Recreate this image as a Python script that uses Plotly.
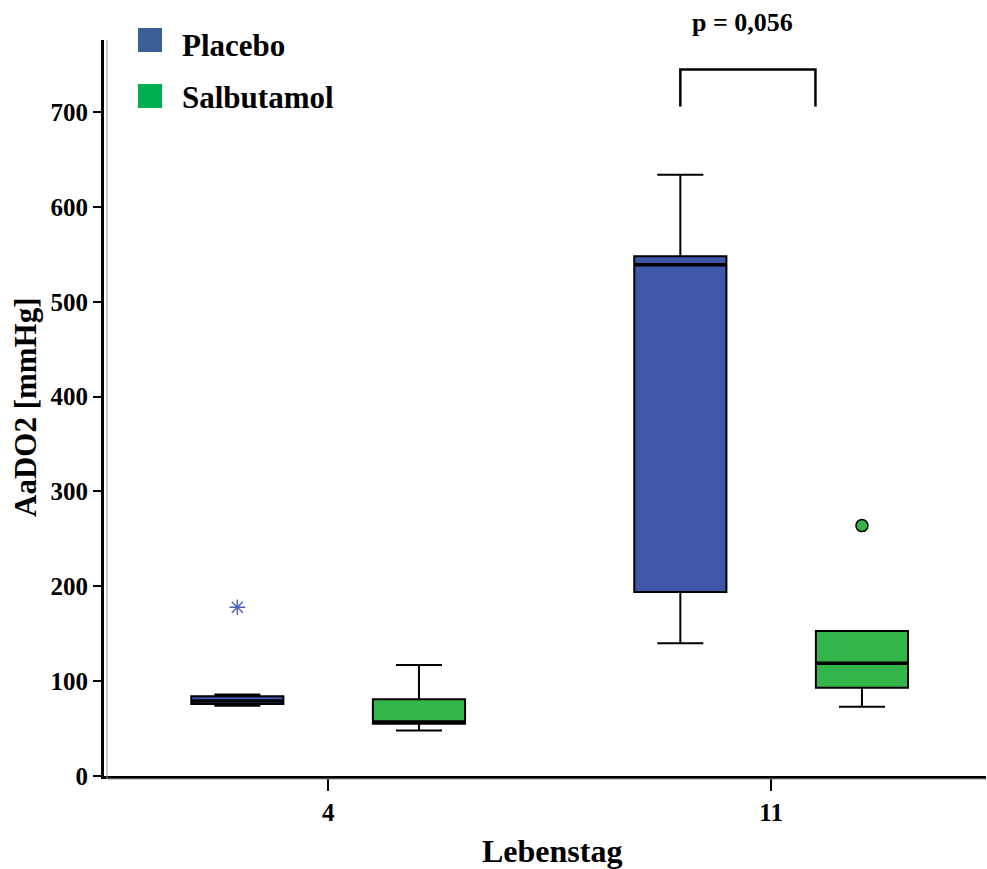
import plotly.graph_objects as go

# ---------------- data ----------------
days = ["4", "11"]
groups = ["Placebo", "Salbutamol"]

placebo_q1 = [76, 194]
placebo_median = [79, 539]
placebo_q3 = [84, 548]
placebo_lower = [74, 140]
placebo_upper = [86, 634]
placebo_outlier_day = ["4"]
placebo_outlier_val = [178]

salb_q1 = [55, 93]
salb_median = [57, 119]
salb_q3 = [81, 153]
salb_lower = [48, 73]
salb_upper = [117, 153]
salb_outlier_day = ["11"]
salb_outlier_val = [264]

y_ticks = [0, 100, 200, 300, 400, 500, 600, 700]
p_text = "p = 0,056"
bracket_day = "11"
bracket_vals = [706, 745]

# ---------------- style / layout ----------------
W, H = 987, 869
ML, MR, MT, MB = 104, 1, 40, 93
plot_w = W - ML - MR
plot_h = H - MT - MB
FONT = "Liberation Serif"
c_plac = "#3F57A8"
c_salb = "#33B54A"
leg_plac = "#3A5F96"
leg_salb = "#00AF50"
offset = 0.205
box_w = 0.208

idx = {d: i for i, d in enumerate(days)}
fig = go.Figure()

def add_box(off, q1, med, q3, lo, up, color):
    fig.add_trace(go.Box(
        x=[idx[d] + off for d in days], q1=q1, median=med, q3=q3,
        lowerfence=lo, upperfence=up, width=box_w, whiskerwidth=0.5,
        fillcolor=color, line=dict(color="black", width=2),
        boxpoints=False, showlegend=False, hoverinfo="skip"))
    # emphasise the median line (thicker, as in the original)
    for d, m in zip(days, med):
        xc = idx[d] + off
        fig.add_shape(type="line", xref="x", yref="y",
                      x0=xc - box_w / 2, x1=xc + box_w / 2, y0=m, y1=m,
                      line=dict(color="black", width=3.5))

add_box(-offset, placebo_q1, placebo_median, placebo_q3, placebo_lower, placebo_upper, c_plac)
add_box(offset, salb_q1, salb_median, salb_q3, salb_lower, salb_upper, c_salb)

fig.add_trace(go.Scatter(
    x=[idx[d] - offset for d in placebo_outlier_day], y=placebo_outlier_val,
    mode="markers", marker=dict(symbol="asterisk-open", size=13, color="#4A5FB5",
                                line=dict(color="#4A5FB5", width=1.4)),
    showlegend=False))
fig.add_trace(go.Scatter(
    x=[idx[d] + offset for d in salb_outlier_day], y=salb_outlier_val,
    mode="markers", marker=dict(symbol="circle", size=12, color=c_salb,
                                line=dict(color="black", width=1.5)),
    showlegend=False))

# significance bracket
bx0 = idx[bracket_day] - offset
bx1 = idx[bracket_day] + 0.10
fig.add_shape(type="path", xref="x", yref="y",
              path=f"M {bx0},{bracket_vals[0]} L {bx0},{bracket_vals[1]} L {bx1},{bracket_vals[1]} L {bx1},{bracket_vals[0]}",
              line=dict(color="black", width=2.5))
fig.add_annotation(x=(bx0 + bx1) / 2, y=1.0, yref="paper", yshift=18, xshift=-5,
                   text=f"<b>{p_text}</b>", showarrow=False,
                   font=dict(family=FONT, size=26, color="black"),
                   xanchor="center", yanchor="middle")

# secondary thin grey axis lines (double line look)
fig.add_shape(type="line", xref="paper", yref="paper", x0=3 / plot_w, x1=3 / plot_w,
              y0=-3 / plot_h, y1=1, line=dict(color="#9A9A9A", width=1))
fig.add_shape(type="line", xref="paper", yref="paper", x0=3 / plot_w, x1=1,
              y0=-3 / plot_h, y1=-3 / plot_h, line=dict(color="#9A9A9A", width=1))

# manual legend
sq_centers = [40, 96]
txt_centers = [46, 97]
for name, col, sc, tc in zip(groups, [leg_plac, leg_salb], sq_centers, txt_centers):
    fig.add_shape(type="rect", xref="paper", yref="paper",
                  xsizemode="pixel", ysizemode="pixel",
                  xanchor=(150 - ML) / plot_w, yanchor=1 - (sc - MT) / plot_h,
                  x0=-12, x1=12, y0=-12, y1=12,
                  fillcolor=col, line=dict(width=0))
    fig.add_annotation(x=(180 - ML) / plot_w, y=1 - (tc - MT) / plot_h,
                       xref="paper", yref="paper",
                       text=f"<b>{name}</b>", showarrow=False, xanchor="left",
                       yanchor="middle",
                       font=dict(family=FONT, size=31, color="black"))

# axis titles
fig.add_annotation(x=-79 / plot_w, y=(776 - 407) / plot_h, xref="paper", yref="paper",
                   text="<b>AaDO2 [mmHg]</b>", textangle=-90, showarrow=False,
                   font=dict(family=FONT, size=31, color="black"),
                   xanchor="center", yanchor="middle")
fig.add_annotation(x=(552 - ML) / plot_w, y=-(851 - 776) / plot_h, xref="paper", yref="paper",
                   text="<b>Lebenstag</b>", showarrow=False,
                   font=dict(family=FONT, size=32, color="black"),
                   xanchor="center", yanchor="middle")

fig.update_layout(
    width=W, height=H, margin=dict(l=ML, r=MR, t=MT, b=MB, autoexpand=False),
    plot_bgcolor="white", paper_bgcolor="white", showlegend=False,
    xaxis=dict(range=[-0.506, 1.485], tickvals=list(range(len(days))), ticktext=days,
               automargin=False,
               showgrid=False, zeroline=False, showline=True, linecolor="black",
               linewidth=3, ticks="outside", ticklen=12, tickwidth=2, tickcolor="black",
               tickfont=dict(family=FONT, size=25, color="black", weight="bold")),
    yaxis=dict(range=[0, 776], tickvals=y_ticks, showgrid=False, zeroline=False,
               automargin=False,
               showline=True, linecolor="black", linewidth=3, ticks="outside",
               ticklen=8, tickwidth=2, tickcolor="black",
               tickfont=dict(family=FONT, size=25, color="black", weight="bold")),
)

fig.write_html("out.html", config={"displayModeBar": False},
               post_script="document.body.style.margin='0px';document.body.style.overflow='hidden';")
